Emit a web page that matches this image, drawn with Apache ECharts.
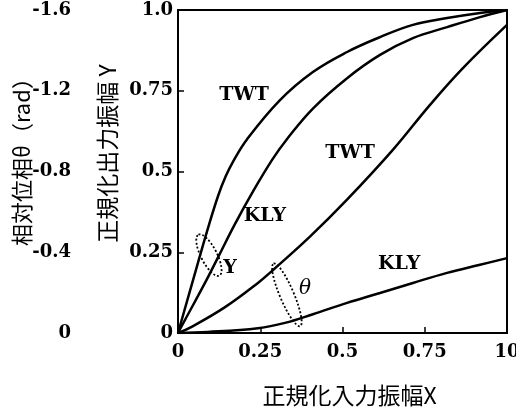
<!DOCTYPE html>
<html>
<head>
<meta charset="utf-8">
<script src="https://cdn.jsdelivr.net/npm/echarts@6/dist/echarts.min.js"></script>
<style>
html,body{margin:0;padding:0;background:#fff;}
#c{width:516px;height:409px;}
</style>
</head>
<body>
<div id="c"></div>
<script>
// ---- data ----
const xTicks = [0, 0.25, 0.5, 0.75, 1.0];
const xTickLabels = ['0', '0.25', '0.5', '0.75', '10'];
const yTicks = [0, 0.25, 0.5, 0.75, 1.0];
const yTickLabels = ['0', '0.25', '0.5', '0.75', '1.0'];
const thetaTicks = [0, -0.4, -0.8, -1.2, -1.6];
const thetaTickLabels = ['0', '-0.4', '-0.8', '-1.2', '-1.6'];

// Normalized output amplitude Y
const twtY_x = [0, 0.052, 0.088, 0.122, 0.145, 0.167, 0.210, 0.310, 0.410, 0.514, 0.614, 0.714, 0.818, 0.918, 1];
const twtY_y = [0, 0.186, 0.314, 0.425, 0.485, 0.530, 0.600, 0.721, 0.808, 0.870, 0.916, 0.954, 0.975, 0.991, 1];
const klyY_x = [0, 0.021, 0.082, 0.122, 0.173, 0.225, 0.286, 0.331, 0.410, 0.514, 0.614, 0.714, 0.818, 0.918, 1];
const klyY_y = [0, 0.040, 0.155, 0.235, 0.337, 0.433, 0.536, 0.600, 0.695, 0.789, 0.861, 0.913, 0.947, 0.978, 1];

// Relative phase theta (rad)
const twtTheta_x = [0, 0.043, 0.143, 0.243, 0.289, 0.401, 0.513, 0.653, 0.766, 0.866, 1];
const twtTheta_v = [0, -0.032, -0.128, -0.248, -0.312, -0.477, -0.659, -0.907, -1.130, -1.312, -1.526];
const klyTheta_x = [0, 0.091, 0.243, 0.325, 0.410, 0.514, 0.614, 0.714, 0.818, 0.918, 1];
const klyTheta_v = [0, -0.005, -0.024, -0.050, -0.093, -0.149, -0.198, -0.248, -0.298, -0.338, -0.371];

// annotations
const annTexts = ['TWT', 'TWT', 'KLY', 'Y', 'KLY', 'θ'];
const annX = [0.201, 0.523, 0.264, 0.158, 0.672, 0.386];
const annY = [0.737, 0.557, 0.362, 0.201, 0.214, 0.136];

const pairs = (xs, ys) => xs.map((x, i) => [x, ys[i]]);

const chart = echarts.init(document.getElementById('c'), null, {renderer: 'canvas'});
const numFont = 'DejaVu Serif';
const cjkFont = 'Noto Sans CJK JP';
const lineStyle = {color: '#000', width: 2.5};
const tickFmt = (ticks, labels) => v => {
  const i = ticks.findIndex(t => Math.abs(t - v) < 1e-9);
  return i < 0 ? '' : labels[i];
};

chart.setOption({
  animation: false,
  backgroundColor: '#fff',
  grid: {left: 178, right: 9, top: 10, bottom: 76, show: true, borderColor: '#000', borderWidth: 2,
         containLabel: false, outerBoundsMode: 'none'},
  xAxis: {
    type: 'value', min: 0, max: 1, interval: 0.25,
    name: '正規化入力振幅X', nameLocation: 'middle', nameGap: 51, nameMoveOverlap: false,
    nameTextStyle: {fontFamily: cjkFont, fontSize: 23, color: '#000', padding: [0, 0, 0, 14]},
    axisLine: {lineStyle: {color: '#000', width: 2}},
    axisTick: {inside: true, length: 6, lineStyle: {color: '#000', width: 1.5}},
    splitLine: {show: false},
    axisLabel: {margin: 10, color: '#000', fontFamily: numFont, fontWeight: 'bold', fontSize: 18,
                formatter: tickFmt(xTicks, xTickLabels)}
  },
  yAxis: [{
    type: 'value', min: 0, max: 1, interval: 0.25, position: 'left',
    name: '正規化出力振幅 Y', nameLocation: 'middle', nameGap: 59, nameMoveOverlap: false,
    nameTextStyle: {fontFamily: cjkFont, fontSize: 23, color: '#000', padding: [0, 0, 0, 36]},
    axisLine: {show: true, lineStyle: {color: '#000', width: 2}},
    axisTick: {show: true, inside: true, length: 6, lineStyle: {color: '#000', width: 1.5}},
    splitLine: {show: false},
    axisLabel: {margin: 5, color: '#000', fontFamily: numFont, fontWeight: 'bold', fontSize: 18,
                formatter: tickFmt(yTicks, yTickLabels)}
  }, {
    type: 'value', min: -1.6, max: 0, interval: 0.4, inverse: true, position: 'left', offset: 104,
    name: '相対位相θ（rad）', nameLocation: 'middle', nameGap: 41, nameMoveOverlap: false,
    nameTextStyle: {fontFamily: cjkFont, fontSize: 22, color: '#000', padding: [0, 0, 0, 30]},
    axisLine: {show: false}, axisTick: {show: false}, splitLine: {show: false},
    axisLabel: {margin: 3, color: '#000', fontFamily: numFont, fontWeight: 'bold', fontSize: 18,
                formatter: tickFmt(thetaTicks, thetaTickLabels)}
  }],
  series: [
    {name: 'TWT Y', type: 'line', yAxisIndex: 0, data: pairs(twtY_x, twtY_y), showSymbol: false, smooth: 0.4, lineStyle},
    {name: 'KLY Y', type: 'line', yAxisIndex: 0, data: pairs(klyY_x, klyY_y), showSymbol: false, smooth: 0.4, lineStyle},
    {name: 'TWT θ', type: 'line', yAxisIndex: 1, data: pairs(twtTheta_x, twtTheta_v), showSymbol: false, smooth: 0.4, lineStyle},
    {name: 'KLY θ', type: 'line', yAxisIndex: 1, data: pairs(klyTheta_x, klyTheta_v), showSymbol: false, smooth: 0.4, lineStyle}
  ]
});

const px = (x, y) => chart.convertToPixel({xAxisIndex: 0, yAxisIndex: 0}, [x, y]);
const graphics = annTexts.map((t, i) => {
  const p = px(annX[i], annY[i]);
  const isTheta = t === 'θ';
  return {
    type: 'text', x: p[0], y: p[1], silent: true, z: 10,
    style: {text: t, fill: '#000', fontFamily: numFont, fontWeight: isTheta ? 'normal' : 'bold',
            fontStyle: isTheta ? 'italic' : 'normal', fontSize: isTheta ? 20 : 19,
            align: 'center', verticalAlign: 'middle'}
  };
});
const loops = [
  {c: [0.094, 0.241], rx: 23, ry: 8, ang: 63},
  {c: [0.331, 0.118], rx: 34, ry: 7, ang: 67}
];
loops.forEach(l => {
  const p = px(l.c[0], l.c[1]);
  graphics.push({
    type: 'ellipse', x: p[0], y: p[1], rotation: -l.ang * Math.PI / 180, silent: true, z: 10,
    shape: {cx: 0, cy: 0, rx: l.rx, ry: l.ry},
    style: {fill: 'none', stroke: '#000', lineWidth: 1.8, lineDash: [2, 2]}
  });
});
chart.setOption({graphic: graphics});
</script>
</body>
</html>
